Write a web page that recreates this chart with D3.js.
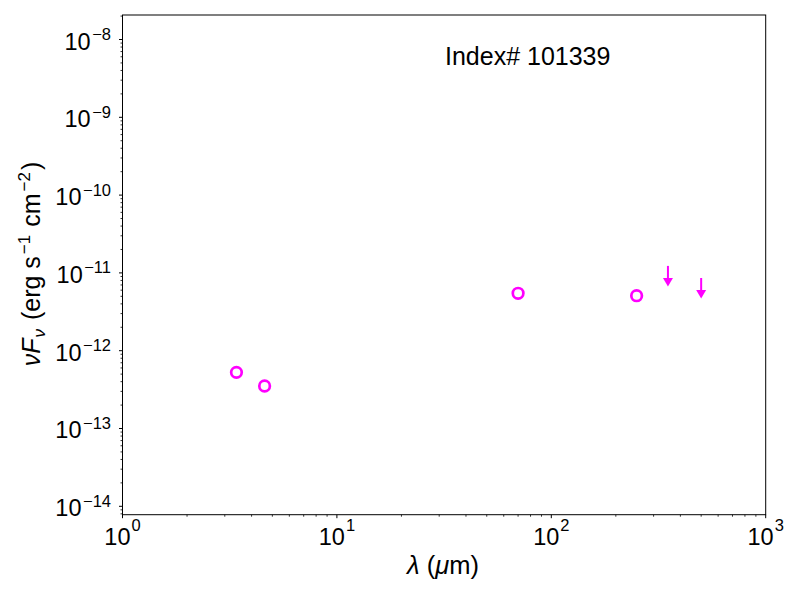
<!DOCTYPE html>
<html><head><meta charset="utf-8">
<script src="https://cdn.jsdelivr.net/npm/d3@7"></script>
<style>body{margin:0;background:#fff;} svg{display:block;font-family:"Liberation Sans",Arial,Helvetica,sans-serif;}</style>
</head><body>
<svg id="c" width="800" height="600"></svg>
<script>
// detections (μm, erg s^-1 cm^-2)
const detWave = [3.4, 4.6, 70, 250];
const detFlux = [5.27e-13, 3.52e-13, 5.47e-12, 5.09e-12];
// upper limits
const ulWave = [350, 500];
const ulFlux = [1.23e-11, 8.6e-12];
const xTicks = [1, 10, 100, 1000];
const yTicks = [1e-14, 1e-13, 1e-12, 1e-11, 1e-10, 1e-9, 1e-8];
const label = "Index# 101339";
const color = "#ff00ff";

const svg = d3.select("#c");
const L = 122.5, R = 765.7, T = 15, B = 514.7;
const x = d3.scaleLog().domain([1, 1000]).range([L, R]);
const y = d3.scaleLog().domain([Math.pow(10, -14.108), Math.pow(10, -7.685)]).range([B, T]);

function minorTicks(lo, hi) {
  const out = [];
  for (let e = Math.floor(Math.log10(lo)); e <= Math.ceil(Math.log10(hi)); e++)
    for (let m = 2; m <= 9; m++) { const v = m * Math.pow(10, e); if (v >= lo && v <= hi) out.push(v); }
  return out;
}
const xd = x.domain(), yd = y.domain();

// minor ticks
svg.append("g").selectAll("line").data(minorTicks(xd[0], xd[1])).join("line")
  .attr("x1", d => x(d)).attr("x2", d => x(d)).attr("y1", B).attr("y2", B + 2)
  .attr("stroke", "#000").attr("stroke-width", 0.8);
svg.append("g").selectAll("line").data(minorTicks(yd[0], yd[1])).join("line")
  .attr("y1", d => y(d)).attr("y2", d => y(d)).attr("x1", L).attr("x2", L - 2)
  .attr("stroke", "#000").attr("stroke-width", 0.8);
// major ticks
svg.append("g").selectAll("line").data(xTicks).join("line")
  .attr("x1", d => x(d)).attr("x2", d => x(d)).attr("y1", B).attr("y2", B + 3.5)
  .attr("stroke", "#000").attr("stroke-width", 1);
svg.append("g").selectAll("line").data(yTicks).join("line")
  .attr("y1", d => y(d)).attr("y2", d => y(d)).attr("x1", L).attr("x2", L - 3.5)
  .attr("stroke", "#000").attr("stroke-width", 1);

// tick labels
const xl = svg.append("g").selectAll("text").data(xTicks).join("text")
  .attr("x", d => x(d)).attr("y", B + 30.5).attr("text-anchor", "middle")
  .attr("font-size", 23.5).attr("fill", "#000");
xl.append("tspan").text("10");
xl.append("tspan").attr("dy", -14).attr("dx", 1).attr("font-size", 16.5).text(d => Math.round(Math.log10(d)));

const yl = svg.append("g").selectAll("text").data(yTicks).join("text")
  .attr("x", L - 11.5).attr("y", d => y(d) + 10).attr("text-anchor", "end")
  .attr("font-size", 23.5).attr("fill", "#000");
yl.append("tspan").text("10");
yl.append("tspan").attr("dy", -9.5).attr("dx", 1.5).attr("font-size", 16.5).text(d => "\u2212" + Math.abs(Math.round(Math.log10(d))));

// frame
svg.append("rect").attr("x", L).attr("y", T).attr("width", R - L).attr("height", B - T)
  .attr("fill", "none").attr("stroke", "#000").attr("stroke-width", 1);

// detections
svg.append("g").selectAll("circle").data(detWave.map((w, i) => [w, detFlux[i]])).join("circle")
  .attr("cx", d => x(d[0])).attr("cy", d => y(d[1])).attr("r", 5.3)
  .attr("fill", "none").attr("stroke", color).attr("stroke-width", 2.7);

// upper limits
const ul = svg.append("g").selectAll("g").data(ulWave.map((w, i) => [w, ulFlux[i]])).join("g")
  .attr("transform", d => `translate(${x(d[0])},${y(d[1])})`);
ul.append("line").attr("x1", 0).attr("x2", 0).attr("y1", 0).attr("y2", 13)
  .attr("stroke", color).attr("stroke-width", 2);
ul.append("path").attr("d", "M-5,12 L5,12 L0,20.5 Z").attr("fill", color);

// annotation
svg.append("text").attr("x", 445).attr("y", 65).attr("font-size", 25).attr("fill", "#000").text(label);

// axis labels
const xlab = svg.append("text").attr("x", 443).attr("y", 574).attr("text-anchor", "middle")
  .attr("font-size", 25.5).attr("fill", "#000");
xlab.append("tspan").attr("font-style", "italic").text("\u03bb");
xlab.append("tspan").text(" (");
xlab.append("tspan").attr("font-style", "italic").text("\u03bc");
xlab.append("tspan").text("m)");

const ylab = svg.append("text").attr("transform", "translate(40,264) rotate(-90)")
  .attr("text-anchor", "middle").attr("font-size", 25).attr("fill", "#000");
ylab.append("tspan").attr("font-style", "italic").text("\u03bdF");
ylab.append("tspan").attr("font-style", "italic").attr("font-size", 17).attr("dy", 5).attr("dx", 1).text("\u03bd");
ylab.append("tspan").attr("dy", -5).attr("dx", 2).text(" (erg s");
ylab.append("tspan").attr("dy", -10).attr("dx", 2).attr("font-size", 17).text("\u22121");
ylab.append("tspan").attr("dy", 10).attr("dx", 1).text(" cm");
ylab.append("tspan").attr("dy", -10).attr("dx", 2).attr("font-size", 17).text("\u22122");
ylab.append("tspan").attr("dy", 10).attr("dx", 2).text(")");
</script>
</body></html>
